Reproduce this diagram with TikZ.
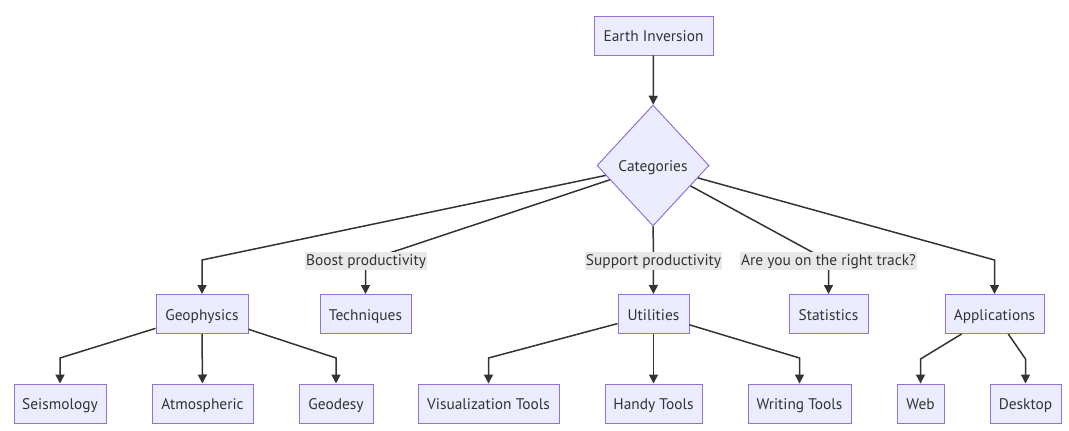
\documentclass[tikz,border=0pt]{standalone}
\usepackage{fontspec}
\setmainfont{PT Sans}
\usetikzlibrary{shapes.geometric,arrows.meta}
\definecolor{boxfill}{HTML}{ECECFF}
\definecolor{boxline}{HTML}{9370DB}
\definecolor{txt}{HTML}{333333}
\definecolor{edge}{HTML}{333333}
\definecolor{lblbg}{HTML}{E8E8E8}
\tikzset{
  txtfont/.style={font=\fontsize{15.4}{18}\selectfont, text height=14pt, text depth=2pt},
  box/.style={draw=boxline, fill=boxfill, line width=1pt, minimum height=39pt, inner sep=0pt, text=txt, txtfont},
  dec/.style={diamond, draw=boxline, fill=boxfill, line width=1pt, minimum width=112pt, minimum height=121pt, inner sep=0pt, text=txt, txtfont},
  lbl/.style={fill=lblbg, inner xsep=1pt, inner ysep=1.5pt, text=txt, font=\fontsize{15.4}{18}\selectfont, text height=11.5pt, text depth=3.5pt},
  conn/.style={draw=edge, line width=1.5pt, -{Triangle[length=9pt,width=9pt]}},
}
\begin{document}
\begin{tikzpicture}[x=1pt,y=-1pt]
\useasboundingbox (0,0) rectangle (1069,431);
% nodes
\node[box, minimum width=119pt] (ei) at (653.5,35.5) {Earth Inversion};
\node[dec] (cat) at (653,165.5) {Categories};
\node[box, minimum width=92pt] (geo) at (202,314) {Geophysics};
\node[box, minimum width=91pt] (tech) at (365.5,314) {Techniques};
\node[box, minimum width=71pt] (util) at (653.5,314) {Utilities};
\node[box, minimum width=79pt] (stat) at (828.5,314) {Statistics};
\node[box, minimum width=99pt] (app) at (994.5,314) {Applications};
\node[box, minimum width=92pt] (seis) at (60,403.5) {Seismology};
\node[box, minimum width=101pt] (atm) at (202.5,403.5) {Atmospheric};
\node[box, minimum width=74pt] (geod) at (336,403.5) {Geodesy};
\node[box, minimum width=141pt] (vis) at (488.5,403.5) {Visualization Tools};
\node[box, minimum width=97pt] (handy) at (653.5,403.5) {Handy Tools};
\node[box, minimum width=103pt] (writ) at (799.5,403.5) {Writing Tools};
\node[box, minimum width=47pt] (web) at (920.5,403.5) {Web};
\node[box, minimum width=71pt] (desk) at (1025.5,403.5) {Desktop};
% bend points
\coordinate (bgeo) at (202,260);
\coordinate (btech) at (365.5,261);
\coordinate (bstat) at (828.5,261);
\coordinate (bapp) at (994.5,260);
\coordinate (bseis) at (60,358);
\coordinate (bgeod) at (336,358);
\coordinate (bvis) at (488.5,358);
\coordinate (bwrit) at (799.5,358);
\coordinate (bweb) at (920.5,359);
\coordinate (bdesk) at (1025.5,359);
% edges
\draw[conn] (ei) -- (cat);
\draw[conn] (cat) -- (bgeo) -- (geo);
\draw[conn] (cat) -- (btech) -- (tech);
\draw[conn] (cat) -- (util);
\draw[conn] (cat) -- (bstat) -- (stat);
\draw[conn] (cat) -- (bapp) -- (app);
\draw[conn] (geo) -- (bseis) -- (seis);
\draw[conn] (geo) -- (atm);
\draw[conn] (geo) -- (bgeod) -- (geod);
\draw[conn] (util) -- (bvis) -- (vis);
\draw[conn] (util) -- (handy);
\draw[conn] (util) -- (bwrit) -- (writ);
\draw[conn] (app) -- (bweb) -- (web);
\draw[conn] (app) -- (bdesk) -- (desk);
% edge labels
\node[lbl] (l1) at (366,261) {Boost productivity};
\node[lbl] (l2) at (653.5,261) {Support productivity};
\node[lbl] (l3) at (828.5,261) {Are you on the right track?};
\end{tikzpicture}
\end{document}
